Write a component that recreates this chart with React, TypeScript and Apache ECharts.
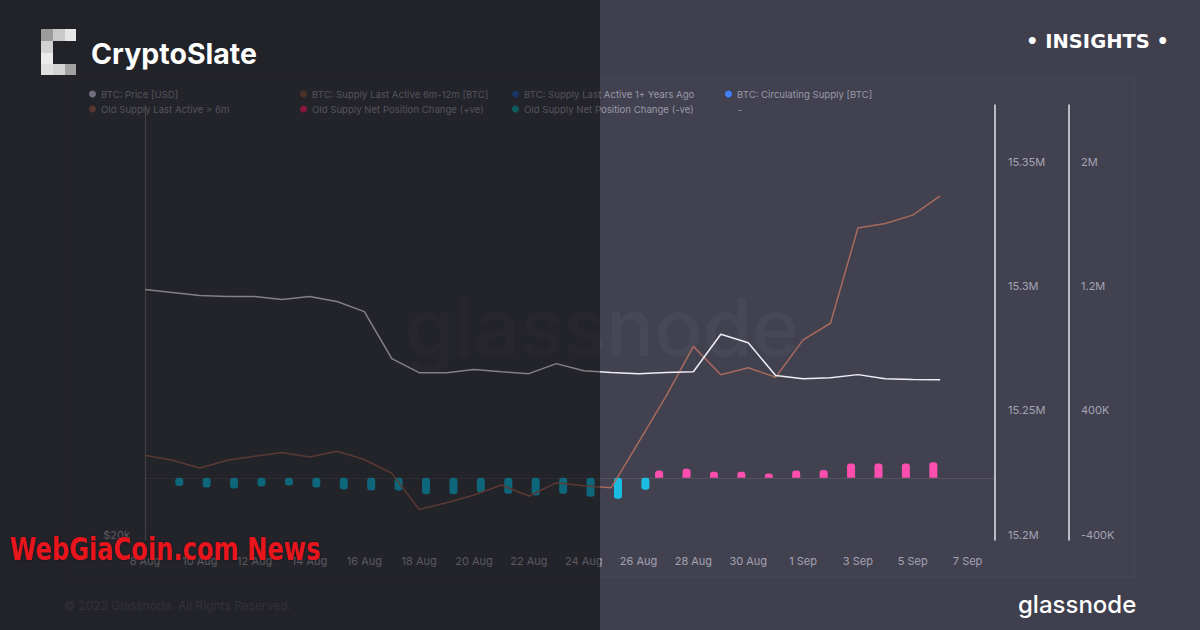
import React, { useEffect, useRef } from 'react';
import * as echarts from 'echarts';

// ---------- data ----------
const dates = [
  '8 Aug', '9 Aug', '10 Aug', '11 Aug', '12 Aug', '13 Aug', '14 Aug', '15 Aug', '16 Aug', '17 Aug',
  '18 Aug', '19 Aug', '20 Aug', '21 Aug', '22 Aug', '23 Aug', '24 Aug', '25 Aug', '26 Aug', '27 Aug',
  '28 Aug', '29 Aug', '30 Aug', '31 Aug', '1 Sep', '2 Sep', '3 Sep', '4 Sep', '5 Sep', '6 Sep',
  '7 Sep', '8 Sep',
];

// BTC price (USD), 8 Aug - 6 Sep
const priceUsd = [
  29810, 29670, 29530, 29480, 29480, 29340, 29480, 29250, 28780, 26700,
  26110, 26110, 26240, 26150, 26070, 26490, 26190, 26120, 26070, 26120,
  26150, 27760, 27390, 25990, 25860, 25900, 26030, 25860, 25830, 25820,
];

// Old Supply Last Active > 6m (BTC), 8 Aug - 6 Sep
const oldSupply = [
  15234100, 15232100, 15229000, 15232100, 15233700, 15235200, 15233400, 15235700, 15232400, 15226800,
  15212300, 15215000, 15218100, 15222100, 15217700, 15223000, 15221800, 15221000, 15239300, 15257800,
  15277900, 15266500, 15269300, 15265500, 15280500, 15287200, 15325500, 15327300, 15330700, 15338400,
];

// Old Supply Net Position Change (+ve), 8 Aug - 6 Sep
const positiveChange = [
  null, null, null, null, null, null, null, null, null, null,
  null, null, null, null, null, null, null, null, null, 47000,
  58000, 40000, 40000, 28000, 47000, 51000, 92000, 92000, 92000, 100000,
];

// Old Supply Net Position Change (-ve), 8 Aug - 6 Sep
const negativeChange = [
  null, -52000, -62000, -68000, -55000, -49000, -62000, -75000, -81000, -81000,
  -105000, -105000, -92000, -103000, -113000, -103000, -122000, -135000, -77000, null,
  null, null, null, null, null, null, null, null, null, null,
];

const supplyTicks = [15200000, 15250000, 15300000, 15350000];
const changeTicks = [-400000, 400000, 1200000, 2000000];
const priceTicks = [20000];

const FONT = 'Inter, "Noto Sans", sans-serif';
const LABEL = '#a4a3b3';
const LEGEND_TEXT = '#9a99a9';

function fmtM(v: number) {
  if (Math.abs(v) >= 1e6) return +(v / 1e6).toFixed(3) + 'M';
  return +(v / 1e3).toFixed(0) + 'K';
}

function legend(name: string, left: number, top: number, color: string, hidden = false) {
  return {
    left,
    top,
    padding: 0,
    itemWidth: 7,
    itemHeight: 7,
    selectedMode: false,
    textStyle: { color: LEGEND_TEXT, fontSize: 9.6, fontFamily: FONT },
    data: [{ name, icon: 'circle', itemStyle: { color, opacity: hidden ? 0 : 1 } }],
  };
}

export default function App() {
  const ref = useRef<HTMLDivElement>(null);

  useEffect(() => {
    if (!ref.current) return;
    const chart = echarts.init(ref.current, undefined, { renderer: 'svg' });
    const option: any = {
      animation: false,
      backgroundColor: '#403f4d',
      textStyle: { fontFamily: FONT },
      grid: { left: 145, right: 205, top: 105, bottom: 90 },
      legend: [
        legend('BTC: Price [USD]', 89, 89, '#d2d0f4'),
        legend('BTC: Supply Last Active 6m-12m [BTC]', 300, 89, '#8d5c48'),
        legend('BTC: Supply Last Active 1+ Years Ago', 512, 89, '#2d60ba'),
        legend('BTC: Circulating Supply [BTC]', 725, 89, '#3f82fa'),
        legend('Old Supply Last Active > 6m', 89, 104, '#a3675a'),
        legend('Old Supply Net Position Change (+ve)', 300, 104, '#ff2a72'),
        legend('Old Supply Net Position Change (-ve)', 512, 104, '#18abab'),
        legend('-', 726, 104, '#000000', true),
      ],
      xAxis: {
        type: 'category',
        data: dates,
        boundaryGap: false,
        axisLine: { show: true, lineStyle: { color: 'rgba(255,255,255,0.06)' } },
        axisTick: { show: false },
        splitLine: { show: false },
        axisLabel: { interval: 1, color: LABEL, fontSize: 11, margin: 15, fontFamily: FONT },
      },
      yAxis: [
        {
          type: 'log',
          logBase: 10,
          position: 'left',
          min: 20000,
          max: 40000,
          axisLine: { show: true, onZero: false, lineStyle: { color: 'rgba(255,255,255,0.3)', width: 1 } },
          axisTick: { show: false },
          splitLine: { show: false },
          axisLabel: {
            customValues: priceTicks,
            formatter: (v: number) => (Math.abs(v - 20000) < 1 ? '$20k' : ''),
            color: LABEL,
            fontSize: 11,
            margin: 15,
            verticalAlign: 'bottom',
          },
        },
        {
          type: 'value',
          position: 'right',
          min: 15200000,
          max: 15375000,
          axisLine: { show: true, onZero: false, lineStyle: { color: '#e4e4ee', width: 1.5 } },
          axisTick: { show: false },
          splitLine: { show: false },
          axisLabel: {
            customValues: supplyTicks,
            formatter: fmtM,
            color: LABEL,
            fontSize: 11,
            margin: 13,
            verticalAlign: 'bottom',
          },
        },
        {
          type: 'value',
          position: 'right',
          offset: 74,
          min: -400000,
          max: 2400000,
          axisLine: { show: true, onZero: false, lineStyle: { color: '#e4e4ee', width: 1.5 } },
          axisTick: { show: false },
          splitLine: { show: false },
          axisLabel: {
            customValues: changeTicks,
            formatter: fmtM,
            color: LABEL,
            fontSize: 11,
            margin: 12,
            verticalAlign: 'bottom',
          },
        },
      ],
      series: [
        {
          name: 'Old Supply Net Position Change (+ve)',
          type: 'bar',
          yAxisIndex: 2,
          data: positiveChange,
          barWidth: 8,
          barGap: '71%',
          itemStyle: { color: '#ff4fae', borderRadius: [3, 3, 0, 0] },
          markLine: {
            silent: true,
            symbol: 'none',
            label: { show: false },
            lineStyle: { color: 'rgba(255,255,255,0.035)', type: 'solid', width: 1 },
            data: [{ yAxis: 0 }],
          },
        },
        {
          name: 'Old Supply Net Position Change (-ve)',
          type: 'bar',
          yAxisIndex: 2,
          data: negativeChange,
          barWidth: 8,
          barGap: '71%',
          itemStyle: { color: '#1bbde2', borderRadius: 3 },
        },
        {
          name: 'Old Supply Last Active > 6m',
          type: 'line',
          yAxisIndex: 1,
          data: oldSupply,
          symbol: 'none',
          lineStyle: { color: '#a66a5e', width: 1.5 },
          itemStyle: { color: '#a66a5e' },
          z: 3,
        },
        {
          name: 'BTC: Price [USD]',
          type: 'line',
          yAxisIndex: 0,
          data: priceUsd,
          symbol: 'none',
          lineStyle: { color: '#eeeef6', width: 1.5 },
          itemStyle: { color: '#eeeef6' },
          z: 4,
        },
        { name: 'BTC: Supply Last Active 6m-12m [BTC]', type: 'line', yAxisIndex: 1, data: [] },
        { name: 'BTC: Supply Last Active 1+ Years Ago', type: 'line', yAxisIndex: 1, data: [] },
        { name: 'BTC: Circulating Supply [BTC]', type: 'line', yAxisIndex: 1, data: [] },
        { name: '-', type: 'line', yAxisIndex: 1, data: [] },
      ],
      graphic: [
        {
          type: 'rect',
          z: 0,
          silent: true,
          shape: { x: 65, y: 78, width: 1070, height: 499 },
          style: { fill: 'rgba(255,255,255,0.012)', stroke: 'rgba(255,255,255,0.04)', lineWidth: 1 },
        },
        {
          type: 'text',
          z: 1,
          silent: true,
          x: 602,
          y: 326,
          style: {
            text: 'glassnode',
            fontSize: 80,
            fontWeight: 500,
            fontFamily: FONT,
            fill: 'rgba(255,255,255,0.035)',
            textAlign: 'center',
            textVerticalAlign: 'middle',
          },
        },
        {
          type: 'text',
          z: 1,
          silent: true,
          x: 64,
          y: 605,
          style: {
            text: '© 2023 Glassnode. All Rights Reserved.',
            fontSize: 12,
            fontFamily: FONT,
            fill: '#5e5d6c',
            textVerticalAlign: 'middle',
          },
        },
        {
          type: 'rect',
          z: 50,
          silent: true,
          shape: { x: 0, y: 0, width: 600, height: 630 },
          style: { fill: 'rgba(0,0,0,0.46)' },
        },
        // CryptoSlate logo squares
        { type: 'rect', z: 60, shape: { x: 41, y: 29, width: 12, height: 12 }, style: { fill: '#9c9c9c' } },
        { type: 'rect', z: 60, shape: { x: 53, y: 29, width: 12, height: 12 }, style: { fill: '#c9c9c9' } },
        { type: 'rect', z: 60, shape: { x: 65, y: 29, width: 11, height: 12 }, style: { fill: '#e6e6e6' } },
        { type: 'rect', z: 60, shape: { x: 41, y: 41, width: 12, height: 12 }, style: { fill: '#d2d2d2' } },
        { type: 'rect', z: 60, shape: { x: 41, y: 53, width: 12, height: 11 }, style: { fill: '#ebebeb' } },
        { type: 'rect', z: 60, shape: { x: 41, y: 64, width: 12, height: 11 }, style: { fill: '#e0e0e0' } },
        { type: 'rect', z: 60, shape: { x: 53, y: 64, width: 12, height: 11 }, style: { fill: '#d4d4d4' } },
        { type: 'rect', z: 60, shape: { x: 65, y: 64, width: 11, height: 11 }, style: { fill: '#a2a2a2' } },
        {
          type: 'text',
          z: 60,
          x: 91,
          y: 53,
          style: {
            text: 'CryptoSlate',
            fontSize: 28.5,
            fontWeight: 700,
            fontFamily: FONT,
            fill: '#ffffff',
            textVerticalAlign: 'middle',
          },
        },
        {
          type: 'text',
          z: 60,
          x: 1026,
          y: 41,
          style: {
            text: '• INSIGHTS •',
            fontSize: 19.5,
            fontWeight: 700,
            fontFamily: '"DejaVu Sans", sans-serif',
            fill: '#ffffff',
            textVerticalAlign: 'middle',
          },
        },
        {
          type: 'text',
          z: 60,
          x: 1018,
          y: 604,
          style: {
            text: 'glassnode',
            fontSize: 24,
            fontWeight: 500,
            fontFamily: FONT,
            fill: '#ffffff',
            textVerticalAlign: 'middle',
          },
        },
        {
          type: 'text',
          z: 60,
          x: 10,
          y: 549,
          scaleX: 0.84,
          style: {
            text: 'WebGiaCoin.com News',
            fontSize: 32,
            fontWeight: 700,
            fontFamily: '"Liberation Sans Narrow", "DejaVu Sans Condensed", sans-serif',
            fill: '#e8161d',
            textVerticalAlign: 'middle',
            textShadowColor: 'rgba(0,0,0,0.6)',
            textShadowBlur: 2,
          },
        },
      ],
    };
    chart.setOption(option);
    return () => chart.dispose();
  }, []);

  return (
    <div
      ref={ref}
      style={{ position: 'fixed', left: 0, top: 0, width: 1200, height: 630 }}
    />
  );
}
